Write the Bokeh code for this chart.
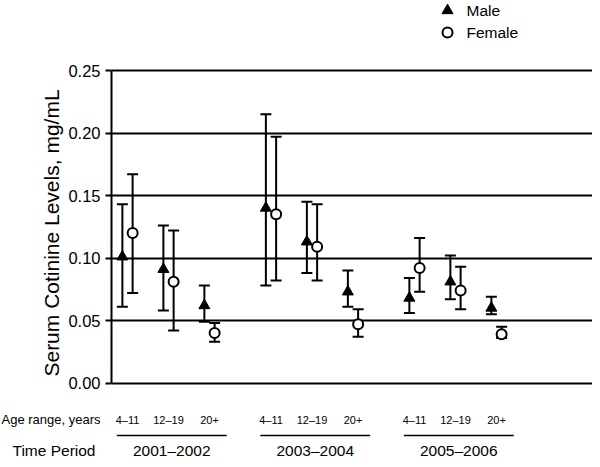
from bokeh.plotting import figure
from bokeh.models import FixedTicker, PrintfTickFormatter, Range1d
from bokeh.core.properties import value
from bokeh.embed import file_html
from bokeh.resources import INLINE

# ---- data ----
periods = ["2001–2002", "2003–2004", "2005–2006"]
ages = ["4–11", "12–19", "20+"]
male_mean = [0.101, 0.091, 0.062, 0.140, 0.113, 0.073, 0.068, 0.081, 0.060]
male_lower = [0.061, 0.058, 0.049, 0.078, 0.088, 0.061, 0.056, 0.067, 0.055]
male_upper = [0.143, 0.126, 0.078, 0.215, 0.145, 0.090, 0.084, 0.102, 0.069]
female_mean = [0.120, 0.081, 0.040, 0.135, 0.109, 0.047, 0.092, 0.074, 0.039]
female_lower = [0.072, 0.042, 0.033, 0.082, 0.082, 0.037, 0.073, 0.059, 0.036]
female_upper = [0.167, 0.122, 0.048, 0.197, 0.143, 0.059, 0.116, 0.093, 0.045]
y_ticks = [0.0, 0.05, 0.10, 0.15, 0.20, 0.25]
series_names = ["Male", "Female"]
y_title = "Serum Cotinine Levels, mg/mL"
age_title = "Age range, years"
period_title = "Time Period"

# ---- layout geometry (pixels) ----
W = 592
TOP_H = 55          # legend strip
MAIN_TOP = 12       # border above frame in main figure
FRAME_TOP = 67      # canvas y of frame top
FRAME_BOT = 398     # canvas y of frame bottom
BOT_H = 459 - FRAME_BOT
LEFT = 111
PX_X = 41.0
PX_Y = 1250.0
X0_PX = 127
Y0_PX = 382.5
GROUP_GAP = 3.5
OFF = 0.125
FONT = "Liberation Sans"

x_start = (LEFT - X0_PX) / PX_X
x_end = (W - X0_PX) / PX_X
x_start_full = -X0_PX / PX_X
y_hi = (Y0_PX - FRAME_TOP) / PX_Y
y_lo = -(FRAME_BOT - Y0_PX) / PX_Y

centers = []
for g in range(len(periods)):
    for a in range(len(ages)):
        centers.append(g * GROUP_GAP + a)
xm = [c - OFF for c in centers]
xf = [c + OFF for c in centers]


def base_fig(h, xr, yr, **kw):
    f = figure(width=W, height=h, output_backend="svg", toolbar_location=None,
               x_range=xr, y_range=yr, **kw)
    f.outline_line_color = None
    f.background_fill_color = "white"
    f.border_fill_color = "white"
    return f


# ---- legend strip ----
leg = base_fig(TOP_H, Range1d(0, W), Range1d(TOP_H, 0),
               x_axis_location=None, y_axis_location=None,
               min_border=0)
leg.grid.visible = False
leg.scatter([447], [10], marker="triangle", size=11, fill_color="black",
            line_color="black")
leg.scatter([447], [32], marker="circle", size=10, fill_color="white",
            line_color="black", line_width=2)
leg.text([466, 466], [10, 32], text=series_names, text_font=value(FONT),
         text_font_size="15.5px", text_align="left", text_baseline="middle",
         text_color="black")

# ---- main plot ----
p = base_fig(MAIN_TOP + FRAME_BOT - FRAME_TOP, Range1d(x_start, x_end),
             Range1d(y_lo, y_hi), x_axis_location=None,
             min_border_left=LEFT, min_border_right=0,
             min_border_top=MAIN_TOP, min_border_bottom=0)
p.xgrid.visible = False

yax = p.yaxis[0]
yax.ticker = FixedTicker(ticks=y_ticks, minor_ticks=[])
yax.formatter = PrintfTickFormatter(format="%.2f")
yax.bounds = (0, 0.25)
yax.axis_line_width = 2
yax.axis_line_color = "black"
yax.major_tick_line_width = 2
yax.major_tick_line_color = "black"
yax.major_tick_out = 6
yax.major_tick_in = 0
yax.minor_tick_line_color = None
yax.major_label_text_font = FONT
yax.major_label_text_font_size = "16.5px"
yax.major_label_text_color = "black"
yax.major_label_standoff = 5
yax.axis_label = y_title
yax.axis_label_text_font = FONT
yax.axis_label_text_font_size = "21px"
yax.axis_label_text_font_style = "normal"
yax.axis_label_text_color = "black"
yax.axis_label_standoff = 2

p.ygrid.ticker = FixedTicker(ticks=y_ticks, minor_ticks=[])
p.ygrid.grid_line_color = "black"
p.ygrid.grid_line_width = 2
p.ygrid.grid_line_alpha = 1

CAP = 5.5 / PX_X


def errorbars(xs, lo, hi):
    p.segment(x0=xs, y0=lo, x1=xs, y1=hi, line_color="black", line_width=2)
    left = [x - CAP for x in xs]
    right = [x + CAP for x in xs]
    p.segment(x0=left, y0=hi, x1=right, y1=hi, line_color="black", line_width=2)
    p.segment(x0=left, y0=lo, x1=right, y1=lo, line_color="black", line_width=2)


errorbars(xm, male_lower, male_upper)
errorbars(xf, female_lower, female_upper)
p.scatter(xm, male_mean, marker="triangle", size=11, fill_color="black",
          line_color="black", line_width=1)
p.scatter(xf, female_mean, marker="circle", size=10, fill_color="white",
          line_color="black", line_width=2)

# ---- bottom annotation strip (same x units as main plot) ----
bot = base_fig(BOT_H, Range1d(x_start_full, x_end), Range1d(459, FRAME_BOT),
               x_axis_location=None, y_axis_location=None, min_border=0)
bot.grid.visible = False
AGE_Y, LINE_Y, PER_Y = 419, 435, 450
bot.text(centers, [AGE_Y] * len(centers), text=ages * len(periods),
         text_font=value(FONT), text_font_size="11px", text_align="center",
         text_baseline="middle", text_color="black")
gcenters = [g * GROUP_GAP + (len(ages) - 1) / 2 + 0.08 for g in range(len(periods))]
HALF = 1.34
bot.segment(x0=[c - HALF for c in gcenters], y0=[LINE_Y] * len(periods),
            x1=[c + HALF for c in gcenters], y1=[LINE_Y] * len(periods),
            line_color="black", line_width=1.5)
bot.text(gcenters, [PER_Y] * len(periods), text=periods, text_font=value(FONT),
         text_font_size="15.5px", text_align="center", text_baseline="middle",
         text_color="black")
bot.text([x_start_full + 1 / PX_X], [AGE_Y], text=[age_title],
         text_font=value(FONT), text_font_size="13px", text_align="left",
         text_baseline="middle", text_color="black")
bot.text([x_start_full + 12 / PX_X], [PER_Y], text=[period_title],
         text_font=value(FONT), text_font_size="15.5px", text_align="left",
         text_baseline="middle", text_color="black")

open("out.html", "w").write(file_html([leg, p, bot], INLINE))
